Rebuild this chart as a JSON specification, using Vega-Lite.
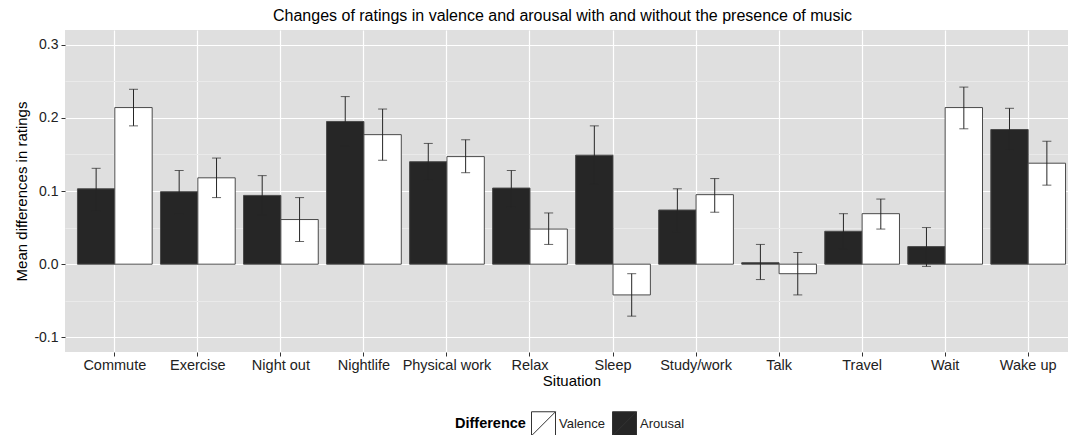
{
  "$schema": "https://vega.github.io/schema/vega-lite/v6.json",
  "width": 1003,
  "height": 322,
  "autosize": {"type": "none"},
  "padding": {"left": 65, "top": 30, "right": 0, "bottom": 83},
  "title": {
    "text": "Changes of ratings in valence and arousal with and without the presence of music",
    "fontSize": 16,
    "fontWeight": "normal",
    "font": "Liberation Sans",
    "color": "#000000",
    "anchor": "middle",
    "offset": 6,
    "dx": -4
  },
  "config": {
    "view": {"fill": "#DFDFDF", "stroke": null},
    "font": "Liberation Sans"
  },
  "data": {
    "values": [
      {"Situation": "Commute", "Difference": "Arousal", "value": 0.103, "lo": 0.073, "hi": 0.131},
      {"Situation": "Commute", "Difference": "Valence", "value": 0.214, "lo": 0.189, "hi": 0.239},
      {"Situation": "Exercise", "Difference": "Arousal", "value": 0.099, "lo": 0.069, "hi": 0.128},
      {"Situation": "Exercise", "Difference": "Valence", "value": 0.118, "lo": 0.091, "hi": 0.145},
      {"Situation": "Night out", "Difference": "Arousal", "value": 0.094, "lo": 0.067, "hi": 0.121},
      {"Situation": "Night out", "Difference": "Valence", "value": 0.061, "lo": 0.031, "hi": 0.091},
      {"Situation": "Nightlife", "Difference": "Arousal", "value": 0.195, "lo": 0.162, "hi": 0.229},
      {"Situation": "Nightlife", "Difference": "Valence", "value": 0.177, "lo": 0.142, "hi": 0.212},
      {"Situation": "Physical work", "Difference": "Arousal", "value": 0.140, "lo": 0.115, "hi": 0.165},
      {"Situation": "Physical work", "Difference": "Valence", "value": 0.147, "lo": 0.125, "hi": 0.170},
      {"Situation": "Relax", "Difference": "Arousal", "value": 0.104, "lo": 0.078, "hi": 0.128},
      {"Situation": "Relax", "Difference": "Valence", "value": 0.048, "lo": 0.027, "hi": 0.070},
      {"Situation": "Sleep", "Difference": "Arousal", "value": 0.149, "lo": 0.109, "hi": 0.189},
      {"Situation": "Sleep", "Difference": "Valence", "value": -0.042, "lo": -0.071, "hi": -0.013},
      {"Situation": "Study/work", "Difference": "Arousal", "value": 0.074, "lo": 0.044, "hi": 0.103},
      {"Situation": "Study/work", "Difference": "Valence", "value": 0.095, "lo": 0.071, "hi": 0.117},
      {"Situation": "Talk", "Difference": "Arousal", "value": 0.002, "lo": -0.021, "hi": 0.027},
      {"Situation": "Talk", "Difference": "Valence", "value": -0.013, "lo": -0.042, "hi": 0.016},
      {"Situation": "Travel", "Difference": "Arousal", "value": 0.045, "lo": 0.021, "hi": 0.069},
      {"Situation": "Travel", "Difference": "Valence", "value": 0.069, "lo": 0.048, "hi": 0.089},
      {"Situation": "Wait", "Difference": "Arousal", "value": 0.024, "lo": -0.003, "hi": 0.050},
      {"Situation": "Wait", "Difference": "Valence", "value": 0.214, "lo": 0.185, "hi": 0.242},
      {"Situation": "Wake up", "Difference": "Arousal", "value": 0.184, "lo": 0.156, "hi": 0.213},
      {"Situation": "Wake up", "Difference": "Valence", "value": 0.138, "lo": 0.108, "hi": 0.168}
    ]
  },
  "encoding": {
    "x": {
      "field": "Situation",
      "type": "nominal",
      "sort": ["Commute", "Exercise", "Night out", "Nightlife", "Physical work", "Relax", "Sleep", "Study/work", "Talk", "Travel", "Wait", "Wake up"],
      "scale": {"paddingInner": 0.1, "paddingOuter": 0.15, "range": [0, 1013]},
      "axis": {
        "title": "Situation",
        "titleFontSize": 15,
        "titleFontWeight": "normal",
        "titleColor": "#000000",
        "titlePadding": 2,
        "labelAngle": 0,
        "labelFontSize": 14.5,
        "labelColor": "#222222",
        "labelPadding": 2,
        "tickColor": "#333333",
        "tickSize": 4,
        "domain": false,
        "grid": true,
        "gridColor": "#FFFFFF",
        "gridWidth": 1.2,
        "bandPosition": 0.5
      }
    },
    "xOffset": {
      "field": "Difference",
      "type": "nominal",
      "scale": {"domain": ["Arousal", "Valence"], "paddingInner": 0, "paddingOuter": 0}
    }
  },
  "layer": [
    {
      "mark": {"type": "bar", "stroke": "#4a4a4a", "strokeWidth": 1},
      "encoding": {
        "y": {
          "field": "value",
          "type": "quantitative",
          "scale": {"domain": [-0.12, 0.32], "nice": false, "zero": false},
          "axis": {
            "orient": "left",
            "title": null,
            "labels": false,
            "ticks": false,
            "domain": false,
            "grid": true,
            "gridColor": "#EAEAEA",
            "gridWidth": 1,
            "values": [-0.05, 0.05, 0.15, 0.25]
          }
        },
        "y2": {"datum": 0},
        "color": {
          "field": "Difference",
          "type": "nominal",
          "scale": {"domain": ["Valence", "Arousal"], "range": ["#FFFFFF", "#262626"]},
          "legend": {
            "orient": "none",
            "legendX": 390,
            "legendY": 381,
            "direction": "horizontal",
            "title": "Difference",
            "titleOrient": "left",
            "titleFontSize": 14.5,
            "titleFontWeight": "bold",
            "titleColor": "#000000",
            "titleBaseline": "middle",
            "labelFontSize": 13,
            "labelColor": "#222222",
            "labelOffset": 3,
            "columnPadding": 4,
            "symbolType": "M-1,-1H1V1H-1Z M-1,1L1,-1",
            "symbolSize": 576,
            "symbolStrokeColor": "#333333",
            "symbolStrokeWidth": 1,
            "symbolOpacity": 1
          }
        }
      }
    },
    {
      "mark": {"type": "rule", "color": "#262626", "strokeWidth": 1},
      "encoding": {
        "y": {
          "field": "lo",
          "type": "quantitative",
          "axis": {
            "orient": "left",
            "title": "Mean differences in ratings",
            "titleFontSize": 15,
            "titleFontWeight": "normal",
            "titleColor": "#000000",
            "titlePadding": 4,
            "values": [-0.1, 0, 0.1, 0.2, 0.3],
            "labelExpr": "datum.value < 0 ? '-' + format(abs(datum.value), '.1f') : format(datum.value, '.1f')",
            "labelFontSize": 14,
            "labelColor": "#222222",
            "labelPadding": 3,
            "tickColor": "#333333",
            "tickSize": 4,
            "domain": false,
            "grid": true,
            "gridColor": "#FFFFFF",
            "gridWidth": 1.2
          }
        },
        "y2": {"field": "hi"}
      }
    },
    {
      "mark": {"type": "tick", "color": "#262626", "size": 9, "thickness": 1},
      "encoding": {
        "y": {"field": "lo", "type": "quantitative", "axis": null}
      }
    },
    {
      "mark": {"type": "tick", "color": "#262626", "size": 9, "thickness": 1},
      "encoding": {
        "y": {"field": "hi", "type": "quantitative", "axis": null}
      }
    }
  ],
  "resolve": {"axis": {"y": "independent"}}
}
